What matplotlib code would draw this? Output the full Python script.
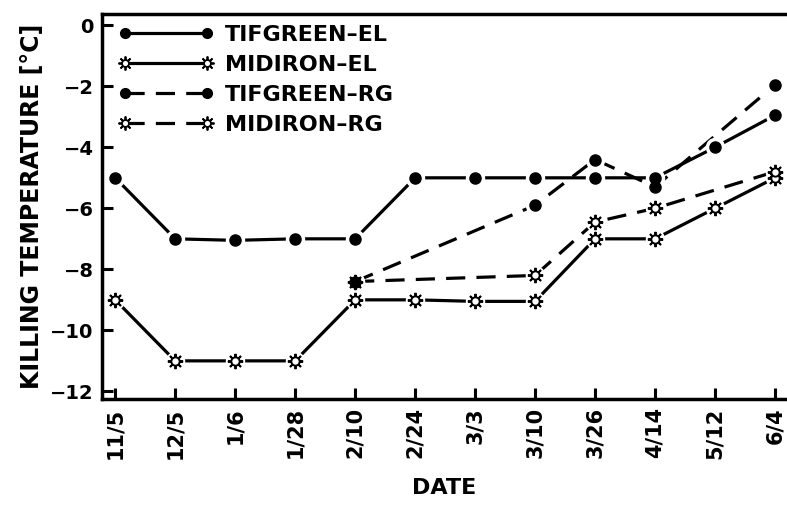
import numpy as np
import matplotlib
matplotlib.use("Agg")
import matplotlib.pyplot as plt
from matplotlib.lines import Line2D

plt.rcParams['font.family'] = ['DejaVu Sans']
plt.rcParams['font.weight'] = 'bold'

dates = ["11/5", "12/5", "1/6", "1/28", "2/10", "2/24", "3/3", "3/10",
         "3/26", "4/14", "5/12", "6/4"]
nan = np.nan
tifgreen_el = [-5, -7, -7.05, -7, -7, -5, -5, -5, -5, -5.0, -4, -2.95]
midiron_el = [-9, -11, -11, -11, -9, -9, -9.05, -9.05, -7, -7, -6, -5.0]
tifgreen_rg = [nan, nan, nan, nan, -8.4, nan, nan, -5.9, -4.4, -5.3, nan, -1.95]
midiron_rg = [nan, nan, nan, nan, -8.4, nan, nan, -8.2, -6.45, -6.0, nan, -4.8]

x = np.arange(len(dates))
lw = 2.3
dash = (0, (6, 3.5))


def series(ax, vals, style, sun):
    v = np.array(vals, dtype=float)
    m = ~np.isnan(v)
    ax.plot(x[m], v[m], color="black", lw=lw, linestyle=style, zorder=2,
            solid_capstyle="butt")
    # white halo to leave small gaps around markers
    ax.plot(x[m], v[m], "o", ms=13, color="white", zorder=3, lw=0)
    if sun:
        ax.plot(x[m], v[m], marker=(8, 2, 0), ms=11, mew=1.4, color="black",
                lw=0, zorder=4)
        ax.plot(x[m], v[m], "o", ms=6, mfc="white", mec="black", mew=1.4,
                lw=0, zorder=5)
    else:
        ax.plot(x[m], v[m], "o", ms=8, color="black", lw=0, zorder=6)


fig = plt.figure(figsize=(7.87, 5.12), dpi=100)
ax = fig.add_axes([0.1296, 0.2207, 0.8704, 0.752])

series(ax, midiron_el, "-", True)
series(ax, tifgreen_el, "-", False)
series(ax, midiron_rg, dash, True)
series(ax, tifgreen_rg, dash, False)

ax.set_xlim(-0.22, 11.2)
ax.set_ylim(-12.25, 0.37)
ax.set_xticks(x)
ax.set_xticklabels(dates, rotation=90, fontsize=15, fontweight="bold")
ax.set_yticks(np.arange(-12, 1, 2))
ax.set_yticklabels(["\u2212%d" % -t if t < 0 else "0" for t in range(-12, 1, 2)],
                   fontsize=14, fontweight="bold")
ax.tick_params(direction="in", length=8, width=2.2, pad=6)
ax.spines["right"].set_visible(False)
for s in ["left", "bottom", "top"]:
    ax.spines[s].set_linewidth(2.5)

ax.set_xlabel("DATE", fontsize=16, fontweight="bold", labelpad=14)
ax.set_ylabel("KILLING TEMPERATURE [°C]", fontsize=17, fontweight="bold",
              labelpad=4)


def h_dot(style):
    return Line2D([], [], color="black", lw=lw, linestyle=style, marker="o",
                  ms=7)


def h_sun(style):
    a = Line2D([], [], color="black", lw=lw, linestyle=style,
               marker=(8, 2, 0), ms=10, mew=1.3)
    b = Line2D([], [], color="black", lw=0, marker="o", ms=5, mfc="white",
               mec="black", mew=1.3)
    return (a, b)


handles = [h_dot("-"), h_sun("-"), h_dot(dash), h_sun(dash)]
labels = ["TIFGREEN\u2013EL", "MIDIRON\u2013EL", "TIFGREEN\u2013RG",
          "MIDIRON\u2013RG"]
leg = ax.legend(handles, labels, loc="upper left", frameon=False,
                fontsize=16, handlelength=4.3, handletextpad=0.5,
                labelspacing=0.45, numpoints=2, borderaxespad=0.2,
                borderpad=0.3, bbox_to_anchor=(0.008, 1.0))
for t in leg.get_texts():
    t.set_fontweight("bold")

fig.savefig("out.png", dpi=100)
